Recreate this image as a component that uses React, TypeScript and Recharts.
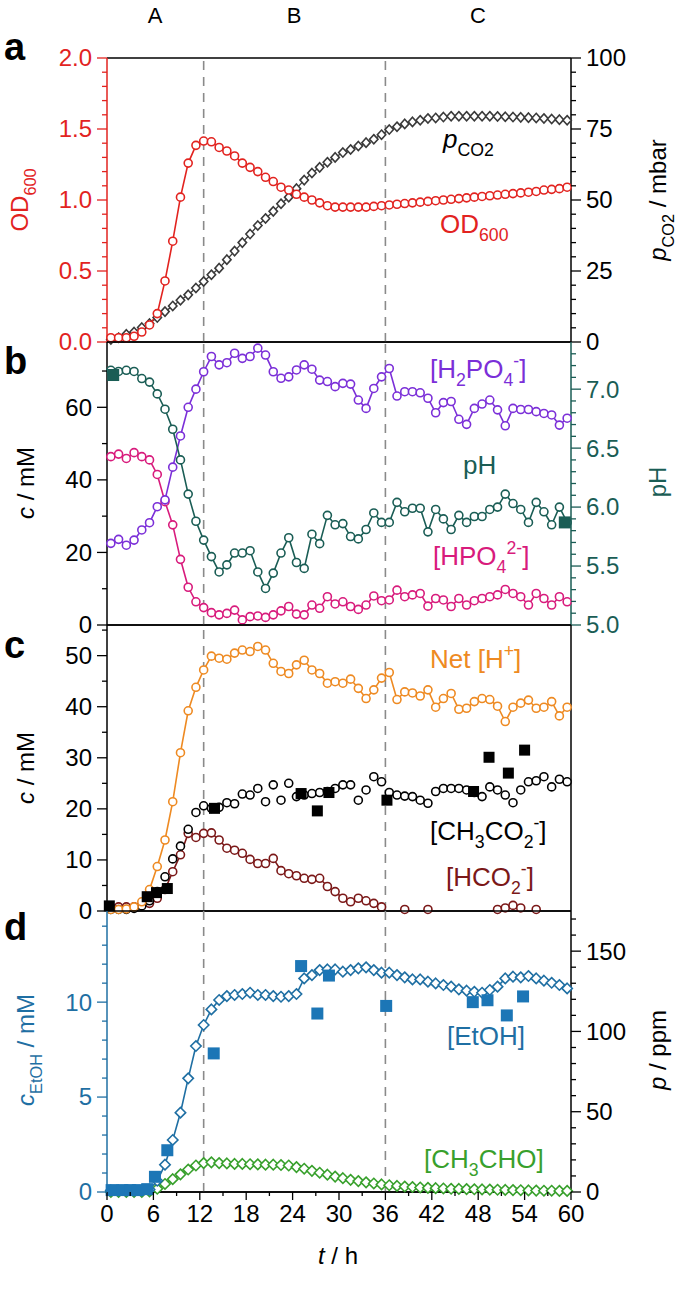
import React from 'react';
import { ComposedChart, Line, XAxis, YAxis, ReferenceLine } from 'recharts';

// sampling times (h) of the online / periodic measurements
const hours = [
  0.5, 1.5, 2.5, 3.5, 4.5, 5.5, 6.5, 7.5, 8.5, 9.5, 10.5, 11.5, 12.5, 13.5, 14.5,
  15.5, 16.5, 17.5, 18.5, 19.5, 20.5, 21.5, 22.5, 23.5, 24.5, 25.5, 26.5, 27.5, 28.5, 29.5,
  30.5, 31.5, 32.5, 33.5, 34.5, 35.5, 36.5, 37.5, 38.5, 39.5, 40.5, 41.5, 42.5, 43.5, 44.5,
  45.5, 46.5, 47.5, 48.5, 49.5, 50.5, 51.5, 52.5, 53.5, 54.5, 55.5, 56.5, 57.5, 58.5, 59.5,
];

// panel a
const od600 = [
  0.03, 0.03, 0.03, 0.04, 0.07, 0.12, 0.2, 0.43, 0.71, 1.02,
  1.26, 1.385, 1.415, 1.41, 1.37, 1.345, 1.31, 1.26, 1.23, 1.2,
  1.16, 1.13, 1.09, 1.07, 1.04, 1.02, 1.0, 0.98, 0.96, 0.95,
  0.95, 0.95, 0.95, 0.95, 0.955, 0.96, 0.965, 0.97, 0.975, 0.98,
  0.985, 0.99, 0.995, 1.0, 1.005, 1.01, 1.015, 1.02, 1.025, 1.03,
  1.035, 1.04, 1.045, 1.05, 1.055, 1.06, 1.07, 1.075, 1.08, 1.09,
];
const pCO2 = [
  0.9, 1.5, 2.7, 3.5, 5.1, 6.5, 8.6, 10.7, 12.7, 14.7,
  16.6, 19.0, 21.3, 23.7, 26.0, 29.0, 32.0, 35.0, 38.0, 41.0,
  43.5, 46.0, 48.7, 51.0, 54.0, 57.0, 59.5, 61.5, 63.3, 65.0,
  66.7, 67.8, 69.0, 70.2, 71.4, 73.0, 74.8, 75.8, 76.8, 77.5,
  78.1, 78.7, 78.9, 79.2, 79.5, 79.5, 79.5, 79.5, 79.5, 79.5,
  79.4, 79.3, 79.2, 79.1, 79.0, 78.9, 78.7, 78.5, 78.3, 78.1,
];

// panel b
const h2po4 = [
  22.5, 23.6, 22.0, 23.4, 26.2, 28.2, 32.6, 34.5, 43.5, 52.1,
  60.0, 65.0, 69.8, 74.0, 71.7, 72.3, 74.9, 73.5, 74.0, 76.3,
  74.4, 69.8, 68.0, 68.4, 70.3, 71.7, 70.5, 67.5, 67.1, 65.7,
  66.6, 66.4, 62.0, 59.7, 65.2, 68.4, 70.7, 63.1, 64.3, 64.3,
  64.0, 62.5, 58.5, 61.3, 61.6, 56.7, 55.3, 59.7, 60.9, 62.0,
  59.3, 54.9, 59.7, 59.4, 59.4, 58.8, 58.3, 57.9, 55.1, 57.0,
];
const hpo4 = [
  46.4, 47.1, 45.9, 47.5, 46.4, 45.5, 41.5, 34.0, 27.6, 18.1,
  10.4, 6.4, 4.8, 3.4, 2.8, 3.2, 4.1, 1.4, 2.3, 2.5,
  2.1, 2.8, 3.9, 5.1, 3.0, 2.8, 5.5, 4.6, 7.8, 5.8,
  6.4, 5.1, 4.3, 5.5, 8.0, 6.7, 6.9, 9.6, 7.8, 8.3,
  8.7, 5.2, 7.3, 6.9, 5.1, 7.3, 5.5, 6.7, 7.3, 7.8,
  8.3, 9.8, 8.7, 7.8, 5.5, 8.7, 7.3, 5.5, 7.8, 6.4,
];
const pH = [
  7.16, 7.15, 7.16, 7.15, 7.09, 7.06, 6.96, 6.83, 6.66, 6.4,
  6.11, 5.88, 5.72, 5.58, 5.45, 5.51, 5.61, 5.61, 5.63, 5.45,
  5.31, 5.44, 5.61, 5.74, 5.53, 5.48, 5.77, 5.69, 5.93, 5.85,
  5.86, 5.75, 5.73, 5.81, 5.95, 5.87, 5.87, 6.04, 5.96, 5.99,
  5.99, 5.79, 5.98, 5.9, 5.81, 5.93, 5.87, 5.92, 5.92, 5.98,
  6.0, 6.11, 6.03, 5.98, 5.87, 6.04, 5.96, 5.85, 6.0, 5.87,
];
const pHSampleTimes = [0.8, 59.2];
const pHSamples = [7.12, 5.87];

// panel c
const netH = [
  0.3, 0.3, 0.4, 0.8, 1.8, 4.2, 8.7, 13.9, 21.4, 31.0,
  39.2, 43.8, 47.2, 49.9, 49.5, 49.3, 50.5, 51.1, 50.8, 51.8,
  51.1, 48.5, 46.9, 46.5, 48.2, 49.1, 47.2, 46.5, 44.6, 44.9,
  44.6, 45.4, 43.6, 41.6, 43.3, 45.6, 46.7, 41.4, 42.9, 42.7,
  42.1, 43.3, 39.9, 41.6, 42.6, 39.5, 39.7, 41.0, 41.6, 41.4,
  40.1, 37.1, 39.9, 40.7, 41.3, 39.7, 39.9, 41.0, 38.2, 39.9,
];
const acetate = [
  0.3, 0.3, 0.3, 0.5, 1.0, 2.0, 3.8, 6.7, 10.2, 12.7,
  16.0, 19.3, 20.6, 20.1, 20.3, 21.2, 21.0, 22.9, 22.7, 24.0,
  21.4, 24.7, 21.7, 25.0, 22.4, 22.7, 23.0, 23.2, 23.4, 24.0,
  24.7, 24.7, 21.7, 23.7, 26.3, 25.3, 23.2, 22.7, 22.5, 22.4,
  21.7, 21.1, 23.4, 24.0, 24.0, 24.0, 23.7, 23.2, 22.4, 24.3,
  23.7, 22.7, 21.2, 23.7, 25.3, 25.5, 26.3, 24.3, 25.8, 25.3,
];
const formate = [
  0.7, 0.8, 0.8, 0.8, 1.2, 1.5, 2.5, 4.2, 7.7, 11.0,
  15.2, 14.4, 15.2, 15.3, 13.9, 12.3, 11.9, 11.3, 10.1, 9.3,
  9.3, 10.3, 7.9, 7.3, 6.9, 6.4, 6.2, 6.4, 4.8, 3.8,
  2.5, 1.8, 2.5, 2.0, 1.5, 0.8, null, null, 0.3, null,
  null, 0.3, null, null, null, null, null, null, null, null,
  0.3, 0.6, 1.1, 0.6, null, 0.3, null, null, null, null,
];
const acetateSampleTimes = [0.3, 5.2, 6.4, 7.8, 13.9, 25.1, 27.2, 28.7, 36.2, 47.4, 49.4, 51.9, 54.0];
const acetateSamples = [1.0, 2.8, 3.6, 4.4, 20.1, 23.0, 19.6, 23.2, 21.7, 23.4, 30.1, 27.0, 31.5];

// panel d
const ethanolGas = [
  1, 1, 1, 1, 1, 1.5, 7, 17, 32.4, 49.4,
  70.8, 90.9, 104.0, 113.7, 119.6, 122.0, 122.7, 123.3, 124.1, 122.7,
  122.7, 122.0, 121.6, 122.0, 123.3, 133.0, 135.1, 138.2, 138.6, 138.6,
  137.2, 138.2, 139.3, 139.9, 138.2, 136.6, 136.6, 135.1, 133.7, 132.4,
  132.4, 131.0, 129.9, 128.9, 127.9, 126.2, 125.4, 124.7, 124.1, 125.8,
  127.9, 133.0, 134.1, 133.7, 134.5, 133.0, 131.6, 130.3, 128.9, 126.8,
];
const acetaldehyde = [
  0, 0, 0, 0, 0, 0.3, 2, 5, 8, 11,
  14, 16.5, 18, 18.5, 18, 17.8, 17.5, 17.5, 17.3, 17.2,
  17.0, 17.0, 16.8, 16.5, 15.5, 14.5, 13.2, 12, 10.8, 9.6,
  8.6, 7.6, 6.8, 6.0, 5.3, 4.7, 4.2, 3.8, 3.4, 3.1,
  2.8, 2.6, 2.4, 2.2, 2.0, 1.9, 1.8, 1.7, 1.6, 1.5,
  1.4, 1.3, 1.2, 1.1, 1.0, 0.9, 0.8, 0.8, 0.7, 0.7,
];
const ethanolSampleTimes = [0.6, 2.0, 3.0, 4.0, 5.2, 6.2, 7.8, 13.8, 25.1, 27.2, 28.7, 36.1, 47.3, 49.2, 51.7, 53.8];
const ethanolSamples = [0.1, 0.1, 0.1, 0.1, 0.15, 0.8, 2.2, 7.3, 11.9, 9.4, 11.4, 9.8, 10.0, 10.1, 9.3, 10.3];

// axis ticks (majors get a label)
const timeTicks = [0, 3, 6, 9, 12, 15, 18, 21, 24, 27, 30, 33, 36, 39, 42, 45, 48, 51, 54, 57, 60];
const timeLabels = [0, 6, 12, 18, 24, 30, 36, 42, 48, 54, 60];
const odTicks = [0, 0.1, 0.2, 0.3, 0.4, 0.5, 0.6, 0.7, 0.8, 0.9, 1, 1.1, 1.2, 1.3, 1.4, 1.5, 1.6, 1.7, 1.8, 1.9, 2];
const odLabels = [0, 0.5, 1, 1.5, 2];
const co2Ticks = [0, 5, 10, 15, 20, 25, 30, 35, 40, 45, 50, 55, 60, 65, 70, 75, 80, 85, 90, 95, 100];
const co2Labels = [0, 25, 50, 75, 100];
const concBTicks = [0, 10, 20, 30, 40, 50, 60, 70];
const concBLabels = [0, 20, 40, 60];
const pHTicks = [5, 5.1, 5.2, 5.3, 5.4, 5.5, 5.6, 5.7, 5.8, 5.9, 6, 6.1, 6.2, 6.3, 6.4, 6.5, 6.6, 6.7, 6.8, 6.9, 7, 7.1, 7.2, 7.3];
const pHLabels = [5, 5.5, 6, 6.5, 7];
const concCTicks = [0, 5, 10, 15, 20, 25, 30, 35, 40, 45, 50, 55];
const concCLabels = [0, 10, 20, 30, 40, 50];
const etohTicks = [0, 1, 2, 3, 4, 5, 6, 7, 8, 9, 10, 11, 12, 13, 14];
const etohLabels = [0, 5, 10];
const ppmTicks = [0, 10, 20, 30, 40, 50, 60, 70, 80, 90, 100, 110, 120, 130, 140, 150, 160, 170];
const ppmLabels = [0, 50, 100, 150];

const FONT = '"Liberation Sans", Arial, sans-serif';
const W = 685;
const LEFT = 107;
const RIGHT = 571;
const PAD = 16;
const A_TOP = 58, A_H = 284;
const B_TOP = 342, B_H = 283;
const C_TOP = 625, C_H = 286;
const D_TOP = 911, D_H = 281;
const XAXIS_H = 70;

const RED = '#e2231f';
const DARK = '#3a3a3a';
const PURPLE = '#7b2fd8';
const TEAL = '#1a5d55';
const MAGENTA = '#d81b7c';
const ORANGE = '#ee8a22';
const BROWN = '#7b1818';
const BLUE = '#1f6fa3';
const SQ_BLUE = '#1c76b6';
const GREEN = '#38a02c';
const DASH = '#8a8a8a';
const TICK_FS = 24;

const isIn = (list: number[], v: number) => list.some((m) => Math.abs(m - v) < 1e-6);

const yTick = (side: 'left' | 'right', labels: number[], color: string, digits = 0) => (props: any) => {
  const { y, payload } = props;
  const v = payload.value;
  const major = isIn(labels, v);
  const x0 = side === 'left' ? LEFT : RIGHT;
  const dir = side === 'left' ? -1 : 1;
  return (
    <g>
      <line x1={x0} x2={x0 + dir * (major ? 10 : 5)} y1={y} y2={y} stroke={color} strokeWidth={1.3} />
      {major && (
        <text
          x={x0 + dir * 15}
          y={y}
          dy="0.35em"
          textAnchor={side === 'left' ? 'end' : 'start'}
          fill={color}
          fontSize={TICK_FS}
          fontFamily={FONT}
        >
          {v.toFixed(digits)}
        </text>
      )}
    </g>
  );
};

const xTick = (props: any) => {
  const { x, payload } = props;
  const major = isIn(timeLabels, payload.value);
  const y0 = PAD + D_H;
  return (
    <g>
      <line x1={x} x2={x} y1={y0} y2={y0 + (major ? 8 : 4)} stroke="#000" strokeWidth={1.3} />
      {major && (
        <text x={x} y={y0 + 30} textAnchor="middle" fontSize={TICK_FS} fontFamily={FONT} fill="#000">
          {payload.value}
        </text>
      )}
    </g>
  );
};

const circle = (color: string) => ({ r: 4, fill: '#fff', stroke: color, strokeWidth: 1.6 });

const diamond = (color: string, w: number, h: number) => (props: any) => {
  const { cx, cy, index } = props;
  if (cx == null || cy == null) return <g key={`d${index}`} />;
  return (
    <path
      key={`d${index}`}
      d={`M${cx},${cy - h}L${cx + w},${cy}L${cx},${cy + h}L${cx - w},${cy}Z`}
      fill="#fff"
      stroke={color}
      strokeWidth={1.6}
    />
  );
};

const square = (color: string, s: number) => (props: any) => {
  const { cx, cy, index } = props;
  if (cx == null || cy == null) return <g key={`s${index}`} />;
  return <rect key={`s${index}`} x={cx - s / 2} y={cy - s / 2} width={s} height={s} fill={color} />;
};

type Part = { t: string; s?: 'sub' | 'sup'; i?: boolean };
const Rich = ({ x, y, parts, size, color, anchor = 'start', rotate = false }: {
  x: number; y: number; parts: Part[]; size: number; color: string; anchor?: string; rotate?: boolean;
}) => {
  let cur = 0;
  return (
    <text
      x={rotate ? 0 : x}
      y={rotate ? 0 : y}
      transform={rotate ? `translate(${x},${y}) rotate(-90)` : undefined}
      fill={color}
      fontSize={size}
      fontFamily={FONT}
      textAnchor={anchor as any}
    >
      {parts.map((p, k) => {
        const target = p.s === 'sub' ? size * 0.32 : p.s === 'sup' ? -size * 0.42 : 0;
        const dy = target - cur;
        cur = target;
        return (
          <tspan key={k} dy={dy} fontSize={p.s ? size * 0.68 : size} fontStyle={p.i ? 'italic' : undefined}>
            {p.t}
          </tspan>
        );
      })}
    </text>
  );
};

const rowsA = hours.map((t, i) => ({ t, od: od600[i], co2: pCO2[i] }));
const rowsB = hours.map((t, i) => ({ t, h2: h2po4[i], hp: hpo4[i], ph: pH[i] }));
const rowsC = hours.map((t, i) => ({ t, net: netH[i], ac: acetate[i], fo: formate[i] }));
const rowsD = hours.map((t, i) => ({ t, et: ethanolGas[i], ald: acetaldehyde[i] }));
const pHSampleRows = pHSampleTimes.map((t, i) => ({ t, v: pHSamples[i] }));
const acetateSampleRows = acetateSampleTimes.map((t, i) => ({ t, v: acetateSamples[i] }));
const ethanolSampleRows = ethanolSampleTimes.map((t, i) => ({ t, v: ethanolSamples[i] }));

const frame = (yMin: number, yMax: number) => [
  <ReferenceLine key="top" yAxisId="l" y={yMax} stroke="#000" strokeWidth={1.5} />,
  <ReferenceLine key="bot" yAxisId="l" y={yMin} stroke="#000" strokeWidth={1.5} />,
  <ReferenceLine key="d1" yAxisId="l" x={12.5} stroke={DASH} strokeWidth={1.6} strokeDasharray="9 7" />,
  <ReferenceLine key="d2" yAxisId="l" x={36} stroke={DASH} strokeWidth={1.6} strokeDasharray="9 7" />,
];

const panelStyle = (top: number): React.CSSProperties => ({ position: 'absolute', left: 0, top: top - PAD });

export default function App() {
  return (
    <div style={{ position: 'absolute', left: 0, top: 0, width: W, height: 1291, background: '#fff', fontFamily: FONT }}>
      {/* a */}
      <div style={panelStyle(A_TOP)}>
        <ComposedChart width={W} height={A_H + 2 * PAD} data={rowsA} margin={{ top: PAD, bottom: PAD, left: 0, right: 0 }}>
          <XAxis dataKey="t" type="number" domain={[0, 60]} hide />
          <YAxis yAxisId="l" width={LEFT} domain={[0, 2]} ticks={odTicks} interval={0} tickLine={false}
            axisLine={{ stroke: RED, strokeWidth: 1.5 }} tick={yTick('left', odLabels, RED, 1)} />
          <YAxis yAxisId="r" orientation="right" width={W - RIGHT} domain={[0, 100]} ticks={co2Ticks} interval={0}
            tickLine={false} axisLine={{ stroke: '#000', strokeWidth: 1.5 }} tick={yTick('right', co2Labels, '#000')} />
          {frame(0, 2)}
          <Line yAxisId="r" dataKey="co2" stroke={DARK} strokeWidth={1.3} dot={diamond(DARK, 4.2, 4.6)} activeDot={false} isAnimationActive={false} />
          <Line yAxisId="l" dataKey="od" stroke={RED} strokeWidth={1.6} dot={circle(RED)} activeDot={false} isAnimationActive={false} />
        </ComposedChart>
      </div>

      {/* b */}
      <div style={panelStyle(B_TOP)}>
        <ComposedChart width={W} height={B_H + 2 * PAD} data={rowsB} margin={{ top: PAD, bottom: PAD, left: 0, right: 0 }}>
          <XAxis dataKey="t" type="number" domain={[0, 60]} hide />
          <YAxis yAxisId="l" width={LEFT} domain={[0, 78]} ticks={concBTicks} interval={0} tickLine={false}
            axisLine={{ stroke: '#000', strokeWidth: 1.5 }} tick={yTick('left', concBLabels, '#000')} />
          <YAxis yAxisId="r" orientation="right" width={W - RIGHT} domain={[5, 7.4]} ticks={pHTicks} interval={0}
            tickLine={false} axisLine={{ stroke: TEAL, strokeWidth: 1.5 }} tick={yTick('right', pHLabels, TEAL, 1)} />
          {frame(0, 78)}
          <Line yAxisId="l" dataKey="hp" stroke={MAGENTA} strokeWidth={1.6} dot={circle(MAGENTA)} activeDot={false} isAnimationActive={false} />
          <Line yAxisId="l" dataKey="h2" stroke={PURPLE} strokeWidth={1.6} dot={circle(PURPLE)} activeDot={false} isAnimationActive={false} />
          <Line yAxisId="r" dataKey="ph" stroke={TEAL} strokeWidth={1.6} dot={circle(TEAL)} activeDot={false} isAnimationActive={false} />
          <Line yAxisId="r" data={pHSampleRows} dataKey="v" stroke="none" dot={square(TEAL, 12)} activeDot={false} isAnimationActive={false} />
        </ComposedChart>
      </div>

      {/* c */}
      <div style={panelStyle(C_TOP)}>
        <ComposedChart width={W} height={C_H + 2 * PAD} data={rowsC} margin={{ top: PAD, bottom: PAD, left: 0, right: 0 }}>
          <XAxis dataKey="t" type="number" domain={[0, 60]} hide />
          <YAxis yAxisId="l" width={LEFT} domain={[0, 56]} ticks={concCTicks} interval={0} tickLine={false}
            axisLine={{ stroke: '#000', strokeWidth: 1.5 }} tick={yTick('left', concCLabels, '#000')} />
          <YAxis yAxisId="r" orientation="right" width={W - RIGHT} domain={[0, 1]} tick={false} tickLine={false}
            axisLine={{ stroke: '#000', strokeWidth: 1.5 }} />
          {frame(0, 56)}
          <Line yAxisId="l" dataKey="fo" stroke={BROWN} strokeWidth={1.6} dot={circle(BROWN)} activeDot={false} isAnimationActive={false} />
          <Line yAxisId="l" dataKey="ac" stroke="none" dot={circle('#000')} activeDot={false} isAnimationActive={false} />
          <Line yAxisId="l" dataKey="net" stroke={ORANGE} strokeWidth={1.6} dot={circle(ORANGE)} activeDot={false} isAnimationActive={false} />
          <Line yAxisId="l" data={acetateSampleRows} dataKey="v" stroke="none" dot={square('#000', 11)} activeDot={false} isAnimationActive={false} />
        </ComposedChart>
      </div>

      {/* d */}
      <div style={panelStyle(D_TOP)}>
        <ComposedChart width={W} height={D_H + PAD + XAXIS_H} data={rowsD} margin={{ top: PAD, bottom: 0, left: 0, right: 0 }}>
          <XAxis dataKey="t" type="number" domain={[0, 60]} ticks={timeTicks} interval={0} height={XAXIS_H}
            tickLine={false} axisLine={{ stroke: '#000', strokeWidth: 1.5 }} tick={xTick} />
          <YAxis yAxisId="l" width={LEFT} domain={[0, 14.8]} ticks={etohTicks} interval={0} tickLine={false}
            axisLine={{ stroke: BLUE, strokeWidth: 1.5 }} tick={yTick('left', etohLabels, BLUE)} />
          <YAxis yAxisId="r" orientation="right" width={W - RIGHT} domain={[0, 175]} ticks={ppmTicks} interval={0}
            tickLine={false} axisLine={{ stroke: '#000', strokeWidth: 1.5 }} tick={yTick('right', ppmLabels, '#000')} />
          {frame(0, 14.8)}
          <Line yAxisId="r" dataKey="ald" stroke={GREEN} strokeWidth={1.6} dot={diamond(GREEN, 5.2, 5.2)} activeDot={false} isAnimationActive={false} />
          <Line yAxisId="r" dataKey="et" stroke={BLUE} strokeWidth={1.6} dot={diamond(BLUE, 5.2, 5.2)} activeDot={false} isAnimationActive={false} />
          <Line yAxisId="l" data={ethanolSampleRows} dataKey="v" stroke="none" dot={square(SQ_BLUE, 12)} activeDot={false} isAnimationActive={false} />
        </ComposedChart>
      </div>

      {/* annotations */}
      <svg width={W} height={1291} style={{ position: 'absolute', left: 0, top: 0, pointerEvents: 'none' }}>
        <text x={155} y={23} textAnchor="middle" fontSize={22} fontFamily={FONT}>A</text>
        <text x={294} y={23} textAnchor="middle" fontSize={22} fontFamily={FONT}>B</text>
        <text x={478} y={23} textAnchor="middle" fontSize={22} fontFamily={FONT}>C</text>

        <text x={4} y={60} fontSize={38} fontWeight="bold" fontFamily={FONT}>a</text>
        <text x={4} y={374} fontSize={38} fontWeight="bold" fontFamily={FONT}>b</text>
        <text x={4} y={658} fontSize={38} fontWeight="bold" fontFamily={FONT}>c</text>
        <text x={4} y={940} fontSize={38} fontWeight="bold" fontFamily={FONT}>d</text>

        <Rich x={28} y={200} rotate anchor="middle" size={24} color={RED} parts={[{ t: 'OD' }, { t: '600', s: 'sub' }]} />
        <Rich x={34} y={483} rotate anchor="middle" size={24} color="#000" parts={[{ t: 'c', i: true }, { t: ' / mM' }]} />
        <Rich x={34} y={768} rotate anchor="middle" size={24} color="#000" parts={[{ t: 'c', i: true }, { t: ' / mM' }]} />
        <Rich x={34} y={1050} rotate anchor="middle" size={24} color={BLUE}
          parts={[{ t: 'c', i: true }, { t: 'EtOH', s: 'sub' }, { t: ' / mM' }]} />
        <Rich x={666} y={200} rotate anchor="middle" size={24} color="#000"
          parts={[{ t: 'p', i: true }, { t: 'CO2', s: 'sub' }, { t: ' / mbar' }]} />
        <Rich x={666} y={482} rotate anchor="middle" size={24} color={TEAL} parts={[{ t: 'pH' }]} />
        <Rich x={666} y={1050} rotate anchor="middle" size={24} color="#000" parts={[{ t: 'p', i: true }, { t: ' / ppm' }]} />
        <Rich x={338} y={1264} anchor="middle" size={24} color="#000" parts={[{ t: 't', i: true }, { t: ' / h' }]} />

        <Rich x={443} y={148} size={26} color="#000" parts={[{ t: 'p', i: true }, { t: 'CO2', s: 'sub' }]} />
        <Rich x={440} y={233} size={26} color={RED} parts={[{ t: 'OD' }, { t: '600', s: 'sub' }]} />
        <Rich x={430} y={378} size={26} color={PURPLE}
          parts={[{ t: '[H' }, { t: '2', s: 'sub' }, { t: 'PO' }, { t: '4', s: 'sub' }, { t: '-', s: 'sup' }, { t: ']' }]} />
        <Rich x={463} y={474} size={26} color={TEAL} parts={[{ t: 'pH' }]} />
        <Rich x={433} y={565} size={26} color={MAGENTA}
          parts={[{ t: '[HPO' }, { t: '4', s: 'sub' }, { t: '2-', s: 'sup' }, { t: ']' }]} />
        <Rich x={430} y={668} size={26} color={ORANGE} parts={[{ t: 'Net [H' }, { t: '+', s: 'sup' }, { t: ']' }]} />
        <Rich x={430} y={840} size={26} color="#000"
          parts={[{ t: '[CH' }, { t: '3', s: 'sub' }, { t: 'CO' }, { t: '2', s: 'sub' }, { t: '-', s: 'sup' }, { t: ']' }]} />
        <Rich x={446} y={886} size={26} color={BROWN}
          parts={[{ t: '[HCO' }, { t: '2', s: 'sub' }, { t: '-', s: 'sup' }, { t: ']' }]} />
        <Rich x={447} y={1045} size={26} color={BLUE} parts={[{ t: '[EtOH]' }]} />
        <Rich x={424} y={1168} size={26} color={GREEN}
          parts={[{ t: '[CH' }, { t: '3', s: 'sub' }, { t: 'CHO]' }]} />
      </svg>
    </div>
  );
}
